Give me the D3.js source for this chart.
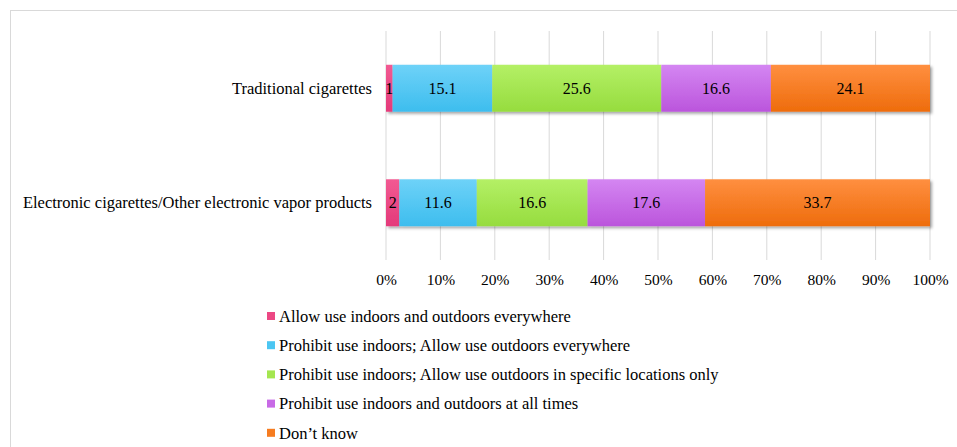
<!DOCTYPE html>
<html>
<head>
<meta charset="utf-8">
<script src="https://cdn.jsdelivr.net/npm/d3@7"></script>
<style>
  body { margin: 0; background: #fff; }
  svg { display: block; }
</style>
</head>
<body>
<div id="chart"></div>
<script>
// Chart values
const categories = ["Traditional cigarettes", "Electronic cigarettes/Other electronic vapor products"];
const seriesNames = [
  "Allow use indoors and outdoors everywhere",
  "Prohibit use indoors; Allow use outdoors everywhere",
  "Prohibit use indoors; Allow use outdoors in specific locations only",
  "Prohibit use indoors and outdoors at all times",
  "Don\u2019t know"
];
const traditionalValues = [1, 15.1, 25.6, 16.6, 24.1];
const electronicValues = [2, 11.6, 16.6, 17.6, 33.7];
const tickValues = [0, 0.1, 0.2, 0.3, 0.4, 0.5, 0.6, 0.7, 0.8, 0.9, 1];

const colorsTop = ["#f25a92", "#6ed2f8", "#b4f066", "#d486f2", "#ff8f40"];
const colorsBottom = ["#e43a7a", "#3dbdee", "#96dc3e", "#bb55dc", "#ee6c0c"];
const colorsFlat = ["#ec4884", "#4cc6f2", "#a4e650", "#c86ae6", "#f67c20"];

const font = "'Liberation Serif', Tinos, 'Times New Roman', Times, 'DejaVu Serif', serif";

const width = 957, height = 447;
const margin = { top: 31, left: 386, right: 27, bottom: 187 };

const rows = categories.map((c, i) => {
  const vals = i === 0 ? traditionalValues : electronicValues;
  const row = { category: c };
  seriesNames.forEach((s, j) => row[s] = vals[j]);
  return row;
});

const stacked = d3.stack()
  .keys(seriesNames)
  .offset(d3.stackOffsetExpand)(rows);

const svg = d3.select("#chart").append("svg")
  .attr("width", width)
  .attr("height", height)
  .style("font-family", font);

// outer frame
svg.append("rect")
  .attr("x", 10.5).attr("y", 10.5)
  .attr("width", width + 20).attr("height", height + 20)
  .attr("fill", "none")
  .attr("stroke", "#d9d9d9");

const defs = svg.append("defs");
seriesNames.forEach((s, j) => {
  const g = defs.append("linearGradient")
    .attr("id", "grad" + j)
    .attr("x1", 0).attr("y1", 0).attr("x2", 0).attr("y2", 1);
  g.append("stop").attr("offset", "0%").attr("stop-color", colorsTop[j]);
  g.append("stop").attr("offset", "100%").attr("stop-color", colorsBottom[j]);
});
const shadow = defs.append("filter").attr("id", "shadow")
  .attr("x", "-5%").attr("y", "-20%").attr("width", "115%").attr("height", "150%");
shadow.append("feDropShadow")
  .attr("dx", 2).attr("dy", 2).attr("stdDeviation", 1.5)
  .attr("flood-color", "#000").attr("flood-opacity", 0.35);

const plotW = width - margin.left - margin.right;
const plotH = height - margin.top - margin.bottom;

const x = d3.scaleLinear().domain([0, 1]).range([0, plotW]);
const y = d3.scaleBand().domain(categories).range([0, plotH]).paddingInner(0.59).paddingOuter(0.295);

const g = svg.append("g").attr("transform", `translate(${margin.left},${margin.top})`);

// gridlines
g.append("g")
  .selectAll("line")
  .data(tickValues)
  .join("line")
  .attr("x1", d => x(d)).attr("x2", d => x(d))
  .attr("y1", 0).attr("y2", plotH)
  .attr("stroke", "#d9d9d9")
  .attr("stroke-width", 1);

// x axis labels
const xAxis = g.append("g")
  .attr("transform", `translate(0,${plotH})`)
  .call(d3.axisBottom(x).tickValues(tickValues).tickFormat(d3.format(".0%")).tickSize(0).tickPadding(14))
  .attr("font-family", font)
  .attr("font-size", 15.5);
xAxis.select(".domain").remove();
xAxis.selectAll("text").attr("fill", "#000");

// y axis labels
const yAxis = g.append("g")
  .call(d3.axisLeft(y).tickSize(0).tickPadding(14))
  .attr("font-family", font)
  .attr("font-size", 16.5);
yAxis.select(".domain").remove();
yAxis.selectAll("text").attr("fill", "#000");

// bars
const layers = g.append("g").attr("filter", "url(#shadow)")
  .selectAll("g")
  .data(stacked)
  .join("g")
  .attr("fill", (d, i) => `url(#grad${i})`);

layers.selectAll("rect")
  .data(d => d)
  .join("rect")
  .attr("x", d => x(d[0]))
  .attr("y", d => y(d.data.category))
  .attr("width", d => x(d[1]) - x(d[0]))
  .attr("height", y.bandwidth());

// value labels
stacked.forEach((layer, i) => {
  g.append("g")
    .selectAll("text")
    .data(layer)
    .join("text")
    .attr("x", d => (x(d[0]) + x(d[1])) / 2)
    .attr("y", d => y(d.data.category) + y.bandwidth() / 2)
    .attr("dy", "0.35em")
    .attr("text-anchor", "middle")
    .attr("font-size", 16)
    .attr("fill", "#000")
    .text(d => d.data[layer.key]);
});

// legend
const legend = svg.append("g").attr("transform", "translate(267,316)");
const items = legend.selectAll("g")
  .data(seriesNames)
  .join("g")
  .attr("transform", (d, i) => `translate(0,${i * 29.2})`);
items.append("rect")
  .attr("x", 0).attr("y", -4)
  .attr("width", 8).attr("height", 8)
  .attr("fill", (d, i) => colorsFlat[i]);
items.append("text")
  .attr("x", 12)
  .attr("dy", "0.35em")
  .attr("font-size", 16.5)
  .attr("fill", "#000")
  .text(d => d);
</script>
</body>
</html>
